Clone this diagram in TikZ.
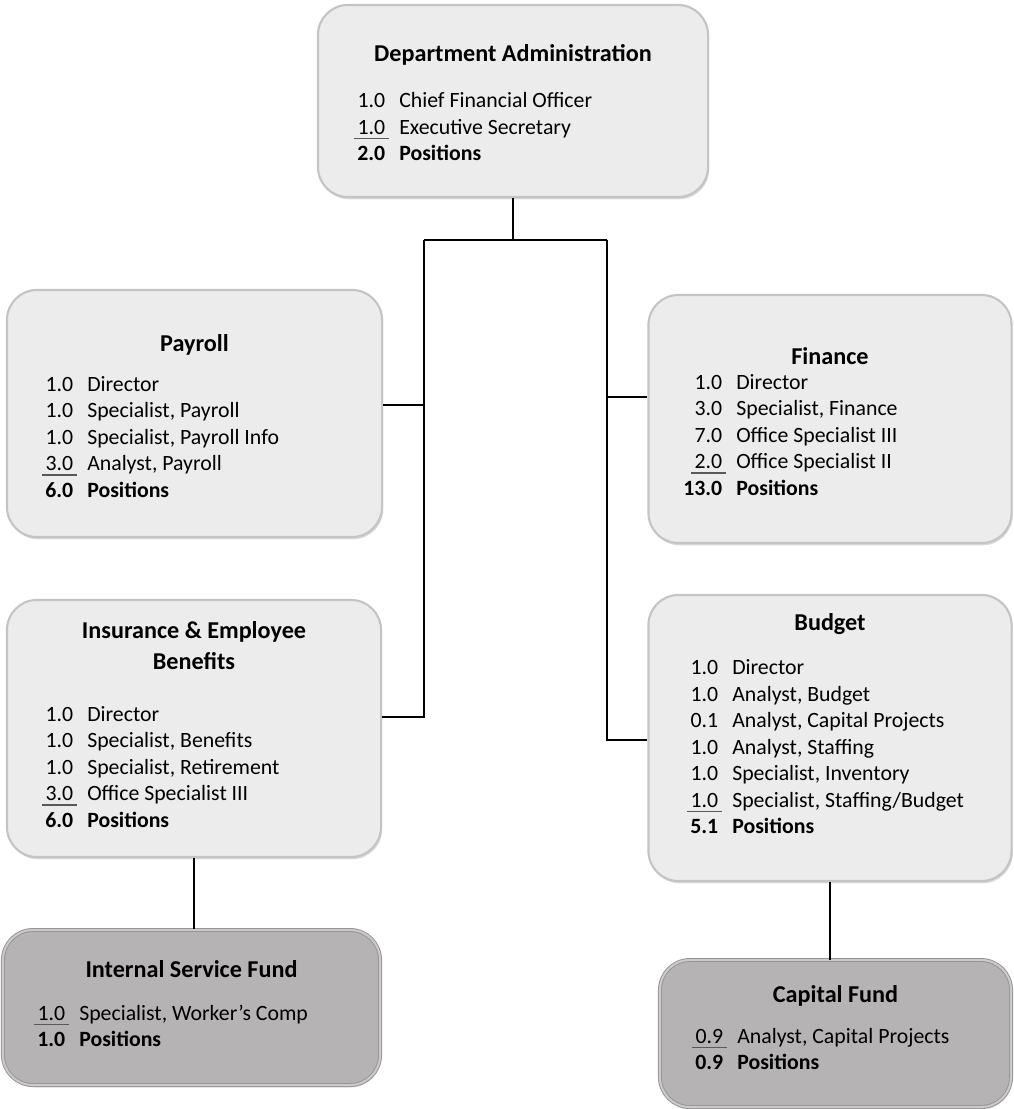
\documentclass[tikz,border=0pt]{standalone}
\usepackage{fontspec}
\setmainfont{Carlito}
\usetikzlibrary{positioning, shadows}

\definecolor{deptfill}{HTML}{ECECEC}
\definecolor{deptedge}{HTML}{C4C4C4}
\definecolor{fundfill}{HTML}{B5B3B3}
\definecolor{fundedge}{HTML}{979595}
\definecolor{fundlight}{HTML}{CCCACA}

% last count of a list, ruled underneath
\newcommand{\tally}[1]{\setbox0\hbox{#1}\rlap{\kern-2.5pt\textcolor{black!65}{\rule[-3.5pt]{\dimexpr\wd0+5pt\relax}{1pt}}}#1}
\newenvironment{roster}{\begin{tabular}{@{}r@{\hspace{10pt}}l@{}}}{\end{tabular}}

\begin{document}
\begin{tikzpicture}[x=0.025cm, y=-0.025cm,
  dept/.style={draw=deptedge, line width=1.5pt, fill=deptfill, rounded corners=0.75cm,
    drop shadow={shadow xshift=0.8pt, shadow yshift=-1.6pt, opacity=0.3}},
  fundbox/.style={dept, fill=fundfill, draw=fundedge, line width=0.7pt,
    double=fundlight, double distance=1.4pt},
  depttitle/.style={inner sep=0pt, align=center, font=\fontsize{17.2}{22}\selectfont\bfseries},
  staff/.style={inner sep=0pt, anchor=west, font=\fontsize{15.5}{18.8}\selectfont},
  link/.style={draw, line width=1.2pt}]
\useasboundingbox (0,0) rectangle (1013,1109);

% boxes
\node[dept, minimum width=9.75cm, minimum height=4.8cm] (admin) at (513,101) {};
\node[dept, minimum width=9.375cm, minimum height=6.175cm] (payroll) at (194.5,413.5) {};
\node[dept, minimum width=9.075cm, minimum height=6.2cm] (finance) at (830,419) {};
\node[dept, minimum width=9.35cm, minimum height=6.425cm] (insur) at (194,728.5) {};
\node[dept, minimum width=9.075cm, minimum height=7.15cm] (budget) at (830,738) {};
\node[fundbox, minimum width=9.425cm, minimum height=3.875cm] (isf) at (191.5,1007.5) {};
\node[fundbox, minimum width=8.775cm, minimum height=3.675cm] (capital) at (835.5,1033.5) {};

% titles
\node[depttitle] (admin-title) at (513,55) {Department Administration};
\node[depttitle] (payroll-title) at (194.5,345) {Payroll};
\node[depttitle] (finance-title) at (830,356) {Finance};
\node[depttitle] (insur-title) at (194,646) {Insurance \& Employee\\Benefits};
\node[depttitle] (budget-title) at (830,624) {Budget};
\node[depttitle] (isf-title) at (191.5,969) {Internal Service Fund};
\node[depttitle] (capital-title) at (835.5,996) {Capital Fund};

% position lists
\node[staff] (admin-list) at (357,129) {\begin{roster}
1.0 & Chief Financial Officer\\
\tally{1.0} & Executive Secretary\\
\textbf{2.0} & \textbf{Positions}
\end{roster}};

\node[staff] (payroll-list) at (45,439) {\begin{roster}
1.0 & Director\\
1.0 & Specialist, Payroll\\
1.0 & Specialist, Payroll Info\\
\tally{3.0} & Analyst, Payroll\\
\textbf{6.0} & \textbf{Positions}
\end{roster}};

\node[staff] (finance-list) at (683,437) {\begin{roster}
1.0 & Director\\
3.0 & Specialist, Finance\\
7.0 & Office Specialist III\\
\tally{2.0} & Office Specialist II\\
\textbf{13.0} & \textbf{Positions}
\end{roster}};

\node[staff] (insur-list) at (45,769) {\begin{roster}
1.0 & Director\\
1.0 & Specialist, Benefits\\
1.0 & Specialist, Retirement\\
\tally{3.0} & Office Specialist III\\
\textbf{6.0} & \textbf{Positions}
\end{roster}};

\node[staff] (budget-list) at (690,749) {\begin{roster}
1.0 & Director\\
1.0 & Analyst, Budget\\
0.1 & Analyst, Capital Projects\\
1.0 & Analyst, Staffing\\
1.0 & Specialist, Inventory\\
\tally{1.0} & Specialist, Staffing/Budget\\
\textbf{5.1} & \textbf{Positions}
\end{roster}};

\node[staff] (isf-list) at (37,1028) {\begin{roster}
\tally{1.0} & Specialist, Worker's Comp\\
\textbf{1.0} & \textbf{Positions}
\end{roster}};

\node[staff] (capital-list) at (695,1051) {\begin{roster}
\tally{0.9} & Analyst, Capital Projects\\
\textbf{0.9} & \textbf{Positions}
\end{roster}};

% bus lines and taps
\coordinate (hub) at (513,240);
\coordinate (lbus) at (424,240);
\coordinate (rbus) at (607,240);
\coordinate (paytap) at (424,405);
\coordinate (instap) at (424,717);
\coordinate (fintap) at (607,397);
\coordinate (budtap) at (607,740);

\draw[link] (admin.south) -- (hub);
\draw[link] (lbus) -- (rbus);
\draw[link] (lbus) -- (instap) -- (instap -| insur.east);
\draw[link] (paytap) -- (paytap -| payroll.east);
\draw[link] (rbus) -- (budtap) -- (budtap -| budget.west);
\draw[link] (fintap) -- (fintap -| finance.west);
\draw[link] (insur.south) -- (insur.south |- isf.north);
\draw[link] (budget.south) -- (budget.south |- capital.north);
\end{tikzpicture}
\end{document}
